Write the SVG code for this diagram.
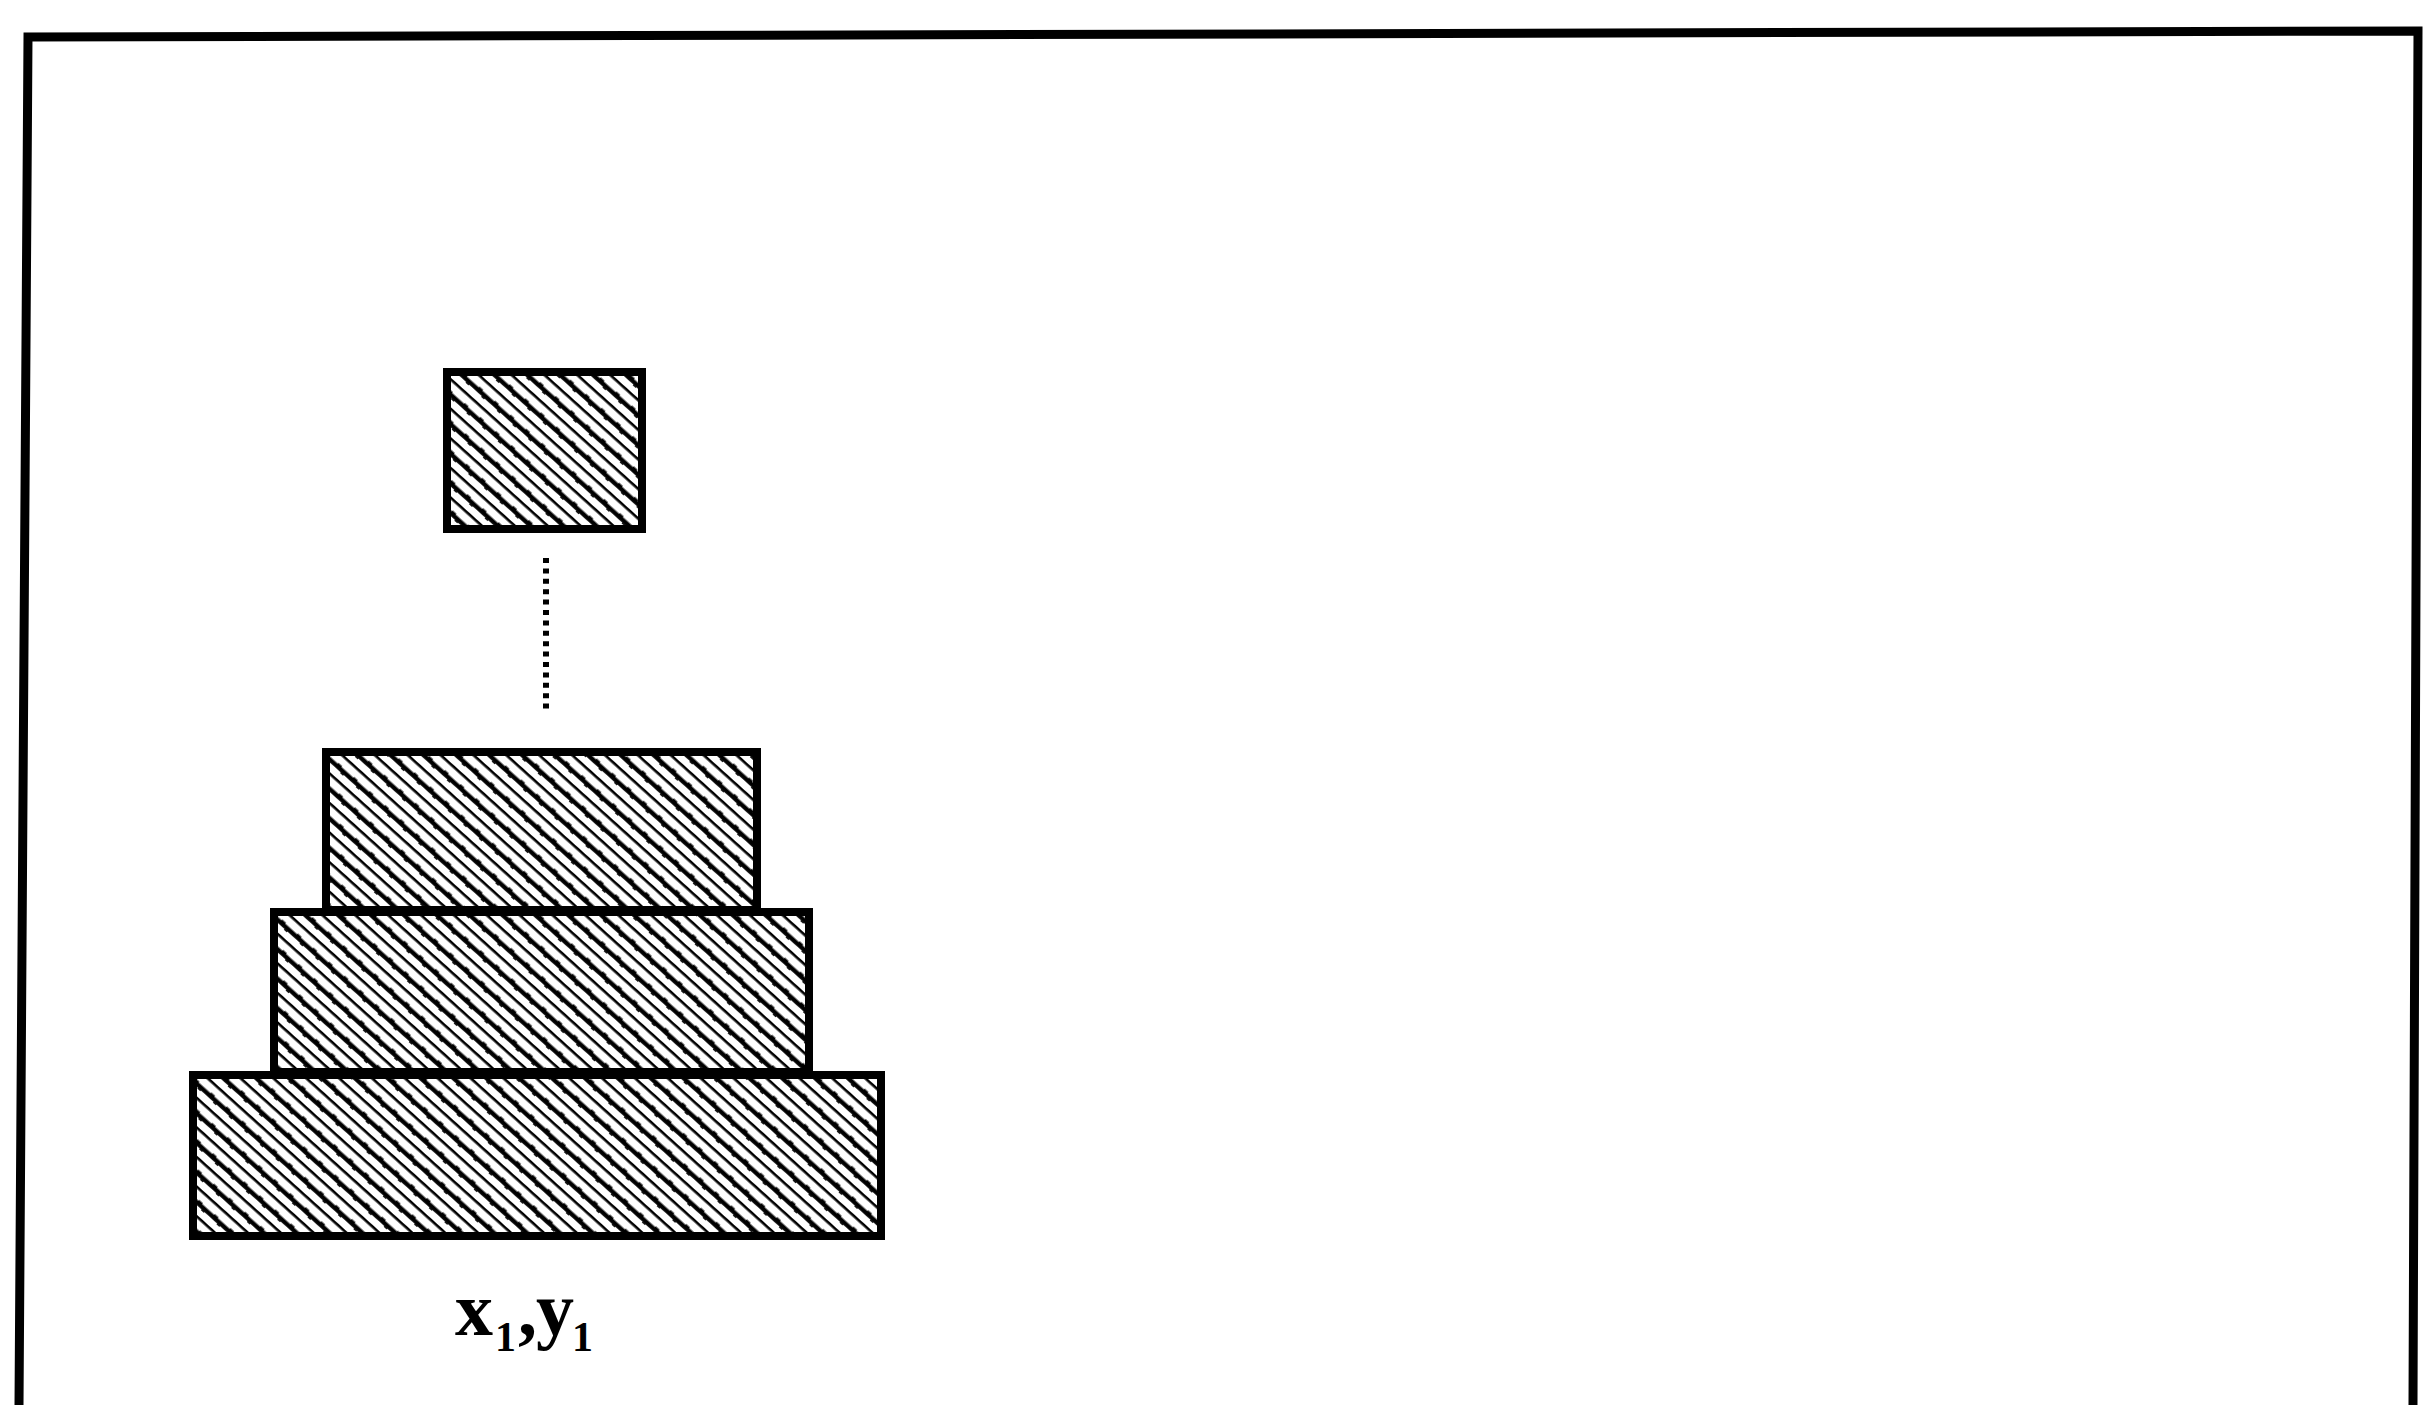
<svg xmlns="http://www.w3.org/2000/svg" width="2427" height="1405" viewBox="0 0 2427 1405">
  <defs>
    <pattern id="hatch" patternUnits="userSpaceOnUse" width="21" height="22" patternTransform="rotate(42)">
      <rect x="0" y="1" width="21" height="2.6" fill="#000"/>
      <rect x="0" y="11.5" width="21" height="4.4" fill="#000"/>
      <rect x="6" y="10.5" width="5" height="1.5" fill="#000"/>
      <rect x="14" y="15.5" width="4" height="1.4" fill="#000"/>
    </pattern>
  </defs>
  <style>
    .frame { fill: none; stroke: #000; stroke-width: 9; stroke-linejoin: miter; }
    .block { fill: url(#hatch); stroke: #000; stroke-width: 8; }
    .dots { stroke: #000; stroke-width: 6; stroke-dasharray: 5 5.4; fill: none; }
    .lbl { font-family: "Liberation Serif", "Times New Roman", serif; font-weight: bold; fill: #000; }
  </style>
  <rect x="0" y="0" width="2427" height="1405" fill="#fff"/>
  <g id="frame">
    <polyline class="frame" points="19,1405 28,37 2418,31 2413,1405"/>
  </g>
  <g id="block-top-square">
    <rect class="block" x="447" y="372" width="195" height="157"/>
  </g>
  <g id="block-upper">
    <rect class="block" x="326" y="752" width="431" height="158"/>
  </g>
  <g id="block-middle">
    <rect class="block" x="274" y="912" width="535" height="160"/>
  </g>
  <g id="block-bottom">
    <rect class="block" x="193" y="1075" width="688" height="161"/>
  </g>
  <g id="connectors">
    <line class="dots" x1="546" y1="558" x2="546" y2="712"/>
  </g>
  <g id="label">
    <text class="lbl"><tspan x="455" y="1335" font-size="76">x</tspan><tspan x="495" y="1351" font-size="42">1</tspan><tspan x="518" y="1335" font-size="76">,</tspan><tspan x="536" y="1335" font-size="76">y</tspan><tspan x="572" y="1351" font-size="42">1</tspan></text>
  </g>
</svg>
